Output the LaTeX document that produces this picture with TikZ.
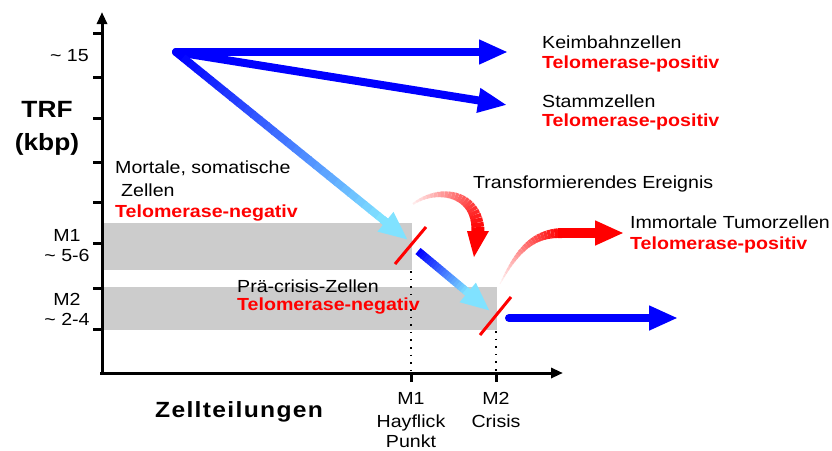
\documentclass[tikz,border=0pt]{standalone}
\usepackage{fontspec}
\setmainfont{Liberation Sans}[FakeStretch=1.12]
\usetikzlibrary{arrows.meta,calc,positioning}
\definecolor{boxgray}{RGB}{204,204,204}
\definecolor{skyc}{RGB}{128,226,255}
\begin{document}
\begin{tikzpicture}[x=1pt, y=-1pt, 
	txt/.style = {font=\fontsize{17.5}{20}\selectfont, inner sep=0pt, anchor=base west},
	redtxt/.style = {font=\fontsize{17.5}{20}\selectfont\bfseries, text=red, inner sep=0pt, anchor=base west},
	ticklbl/.style = {font=\fontsize{17.5}{20}\selectfont, inner sep=0pt, anchor=base},
	big/.style = {font=\fontsize{23.5}{26}\selectfont\bfseries, inner sep=0pt, anchor=base},
	axis/.style = {line width=3pt, -{Triangle[length=12pt,width=10pt]}},
	blueline/.style = {line width=8pt, blue, line cap=round, -{Triangle[length=29pt,width=23pt]}},
	slash/.style = {line width=3pt, red},
	dots/.style = {line width=1.6pt, dash pattern=on 1.6pt off 6pt}]
	\useasboundingbox (0,0) rectangle (832,450);
	
	%Grey bands M1 and M2
	\fill[boxgray] (103,223) rectangle (412,270); %M1 band
	\fill[boxgray] (103,287) rectangle (497,330); %M2 band
	
	%Axes
	\coordinate (O) at (102,373);
	\coordinate (ytop) at (102,12);
	\coordinate (xend) at (563,373);
	\draw[axis] (102,375) -- (ytop); %TRF axis
	\draw[axis] (100,373) -- (xend); %Zellteilungen axis
	\foreach \ty in {33,77,118,162,202,243,288,329}
		\draw[line width=3pt] (93,\ty) -- (102,\ty);
	\foreach \tx in {411,496}
		\draw[line width=3pt] (\tx,373) -- (\tx,382);
	\draw[dots] (411,271) -- (411,373); %M1 dotted
	\draw[dots] (496,331) -- (496,373); %M2 dotted
	
	%Axis labels
	\node[big] (trf) at (47,117) {TRF};
	\node[big] (kbp) at (47,150) {(kbp)};
	\node[big, font=\fontsize{22}{24}\selectfont\bfseries\addfontfeature{LetterSpace=6}, anchor=base west] (zt) at (155,417) {Zellteilungen};
	\node[ticklbl, anchor=base east] (k15) at (89,61) {\textasciitilde{} 15};
	\node[ticklbl] (m1y) at (67,241) {M1};
	\node[ticklbl] (m1v) at (67,261) {\textasciitilde{} 5-6};
	\node[ticklbl] (m2y) at (67,305) {M2};
	\node[ticklbl] (m2v) at (67,325) {\textasciitilde{} 2-4};
	\node[ticklbl] (m1x) at (411,404) {M1};
	\node[ticklbl] (hay) at (411,427) {Hayflick};
	\node[ticklbl] (pkt) at (411,447) {Punkt};
	\node[ticklbl] (m2x) at (496,404) {M2};
	\node[ticklbl] (cri) at (496,427) {Crisis};
	
	%Cell types
	\node[txt] (keim) at (542,48) {Keimbahnzellen};
	\node[redtxt] (keimT) at ([yshift=-20pt]keim.base west) {Telomerase-positiv};
	\node[txt] (stamm) at (542,107) {Stammzellen};
	\node[redtxt] (stammT) at ([yshift=-19pt]stamm.base west) {Telomerase-positiv};
	\node[txt] (mort) at (115,173) {Mortale, somatische};
	\node[txt] (mortZ) at (121,196) {Zellen};
	\node[redtxt] (mortT) at (115,217) {Telomerase-negativ};
	\node[txt] (pre) at (237,292) {Prä-crisis-Zellen};
	\node[redtxt] (preT) at ([yshift=-18pt]pre.base west) {Telomerase-negativ};
	\node[txt] (trans) at (473,188) {Transformierendes Ereignis};
	\node[txt] (imm) at (630,228) {Immortale Tumorzellen};
	\node[redtxt] (immT) at ([yshift=-21pt]imm.base west) {Telomerase-positiv};
	
	%Blue arrows from ~15 kbp
	\coordinate (src) at (176,52);
	\coordinate (keimTip) at (508,52);
	\coordinate (stammTip) at (507,105);
	\coordinate (hayTip) at (408,240);
	\draw[blueline] (src) -- (keimTip); %germ line
	\draw[blueline] (src) -- (stammTip); %stem cells
	\foreach \k in {0,...,29} { %somatic cells, blue -> sky
		\pgfmathsetmacro\fa{0.9*\k/30}
		\pgfmathsetmacro\fb{0.9*(\k+1)/30+0.004}
		\pgfmathsetmacro\pc{100-100*\k/29}
		\draw[line width=8pt, blue!\pc!skyc, line cap=butt] ($(src)!\fa!(hayTip)$) -- ($(src)!\fb!(hayTip)$);
	}
	\fill[blue] (src) circle (4pt);
	\draw[line width=8pt, skyc, -{Triangle[length=29pt,width=23pt]}] ($(src)!0.89!(hayTip)$) -- (hayTip);
	
	%Pre-crisis arrow M1 -> M2
	\coordinate (preA) at (418,251);
	\coordinate (crisTip) at (490,311);
	\foreach \k in {0,...,19} {
		\pgfmathsetmacro\fa{0.69*\k/20}
		\pgfmathsetmacro\fb{0.69*(\k+1)/20+0.005}
		\pgfmathsetmacro\pc{100-100*\k/19}
		\draw[line width=8pt, blue!\pc!skyc] ($(preA)!\fa!(crisTip)$) -- ($(preA)!\fb!(crisTip)$);
	}
	\draw[line width=8pt, skyc, -{Triangle[length=29pt,width=23pt]}] ($(preA)!0.66!(crisTip)$) -- (crisTip);
	
	%After crisis
	\coordinate (postA) at (509,318);
	\coordinate (postTip) at (678,318);
	\draw[blueline] (postA) -- (postTip);
	
	%Red slashes at M1 and M2
	\coordinate (s1a) at (395,264);
	\coordinate (s1b) at (426,227);
	\coordinate (s2a) at (480,335);
	\coordinate (s2b) at (511,297);
	\draw[slash] (s1a) -- (s1b);
	\draw[slash] (s2a) -- (s2b);
	
	%Transforming event, fading red arrow
	\coordinate (e1s) at (413,204);
	\coordinate (e1e) at (478,232);
	\path (e1s) .. controls (438,186) and (478,192) .. (e1e)
		\foreach \k [evaluate=\k as \pp using \k/24] in {0,...,24} {coordinate[pos=\pp] (ra\k)};
	\foreach \k [evaluate=\k as \kn using int(\k+1)] in {0,...,23} {
		\pgfmathsetmacro\pc{8+92*\k/23}
		\pgfmathsetmacro\lw{2+11*\k/23}
		\draw[line width=\lw pt, red!\pc!white] (ra\k) -- (ra\kn);
	}
	\coordinate (e1l) at (467,231);
	\coordinate (e1r) at (489,231);
	\coordinate (e1t) at (474,257);
	\fill[red] (e1l) -- (e1r) -- (e1t) -- cycle;
	
	%Immortal tumour cells, fading red arrow
	\coordinate (e2s) at (500,284);
	\coordinate (e2e) at (562,233);
	\coordinate (e2t) at (624,233);
	\path (e2s) .. controls (515,255) and (530,233) .. (e2e)
		\foreach \k [evaluate=\k as \pp using \k/24] in {0,...,24} {coordinate[pos=\pp] (rb\k)};
	\foreach \k [evaluate=\k as \kn using int(\k+1)] in {0,...,23} {
		\pgfmathsetmacro\pc{5+95*\k/23}
		\pgfmathsetmacro\lw{1+9*\k/23}
		\draw[line width=\lw pt, red!\pc!white] (rb\k) -- (rb\kn);
	}
	\draw[red, line width=10pt, -{Triangle[length=29pt,width=23pt]}] (e2e) -- (e2t);
\end{tikzpicture}
\end{document}
